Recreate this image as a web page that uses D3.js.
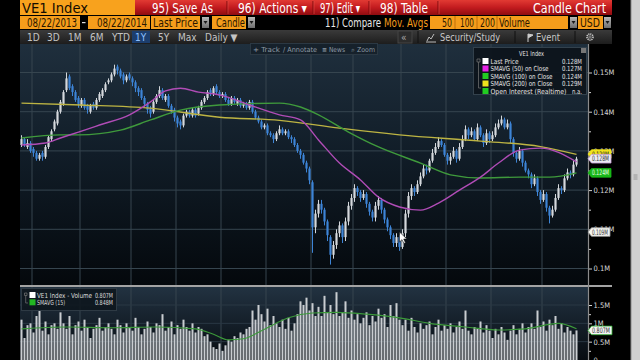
<!DOCTYPE html>
<html>
<head>
<meta charset="utf-8">
<script src="https://cdn.jsdelivr.net/npm/d3@7"></script>
<style>
html, body { margin: 0; padding: 0; background: #000; overflow: hidden; }
svg { display: block; font-family: "Liberation Sans Narrow", "DejaVu Sans Condensed", "Arial Narrow", sans-serif; }
</style>
</head>
<body>
<div id="container"></div>
<script>
// daily candles, prices in thousands (0.128M = 128)
let opens = [
  131.5,133,131,132,130.5,129.5,128,129.5,128.5,131,
  133,135.5,137,140,142,145.5,149,146.5,145,143.5,
  141.5,143,141.5,140,142,141,143,144,145.5,147.5,
  148,149.5,151.5,150.5,149.5,148,149.5,148.5,147.5,146,
  145.5,143.5,142,141,140,142.5,144,145.5,143,144,
  141.5,140.5,138.5,137.5,136.5,139,140,139,140.5,139.5,
  141,142.5,143.5,145.5,144.5,146.5,145,144,144.5,143,
  142,143.5,142,143,141.5,142,141,142.5,140,138.5,
  137.5,136,136.5,134.5,134,133,134.5,135.5,134.5,135,
  133.5,133,131.5,130,129,127,125.5,122,110.5,114,
  116.5,115,112,108,103.5,106,109,111,108,112,
  116,118,120.5,119.5,118,119,116.5,114.5,113,116,
  117.5,115,112.5,110.5,108.5,106.5,108,105.5,109,114,
  118.5,120.5,119.5,121.5,123.5,125.5,125,127.5,129.5,131,
  132.5,131.5,129,127.5,128.5,130,128,131,133,135.5,
  134,135,133,136,134,132,134.5,133,134,136,
  137,138,136,137,133,129.5,128,130,127,125,
  124,121.5,123,119.5,117.5,119,115.5,113.5,115,118,
  120.5,120,123,124.5,124,126.5
];
let highs = [
  134,133.5,133,132.5,131,130,129.5,130,131.5,134,
  135.5,138,140.5,143,145.5,150,149.5,147,145.5,144,
  143.5,143.5,142,142,142.5,143.5,145,146,147.5,148.5,
  150,152,152,151,150,149.5,150,149,148,146.5,
  146,144,142.5,141.5,143,144.5,146.5,146,144.5,144.5,
  142,141,139,138,139.5,140.5,140.5,141,141,141.5,
  143,144,145.5,146,146.5,147,145.5,145,145,143.5,
  144,144,143.5,143.5,142.5,142.5,143,143,140.5,139,
  138,137,137,135,134.5,135,136.5,136,135.5,135.5,
  134,133.5,132,130.5,129.5,127.5,126,122.5,115,117.5,
  117.5,115.5,112.5,108.5,107,110,112,111.5,113,117,
  119,121.5,121,120,120,119.5,117,115,117,118.5,
  118,115.5,113,111,109,109,108.5,110,115,119.5,
  121.5,121,122.5,124.5,126.5,126.5,128,130.5,132,133.5,
  133,132,129.5,129.5,131,130.5,132,134,136.5,136,
  136,135.5,137,136.5,134.5,135.5,135,135,137,138,
  139,138.5,138,137.5,133.5,130,131,130.5,127.5,125.5,
  124.5,124,123.5,120,120,119.5,116,116,119,121.5,
  121,124,125.5,125,127.5,128.5
];
let lows = [
  131,131,130.5,129.5,128.5,127.5,127.5,127.5,128,130.5,
  132.5,135,136.5,139.5,141.5,145,145.5,144,142.5,141,
  141,140.5,139.5,139.5,140.5,140.5,142.5,143.5,145,147,
  147.5,149,149.5,148.5,147,147.5,148,146.5,145,144,
  143,141,139.5,138.5,139.5,142,143.5,143,142.5,141,
  139.5,137.5,136,135.5,136,138.5,138.5,138.5,138.5,139,
  140.5,142,143,144,144,144.5,143.5,143.5,142.5,141.5,
  141.5,142,141.5,141,141,140.5,140.5,139.5,138,137,
  135.5,135.5,134,133.5,132,132.5,134,134,134,133,
  132,131,129.5,128,126.5,124.5,121.5,104,109,113,
  114,111,107,101,102.5,105,108,106.5,107,111,
  115,117,118.5,117,117.5,115.5,113.5,112,112,115,
  114,111.5,109.5,107.5,105.5,105.5,104.5,105,108,113,
  117.5,118.5,119,121,123,124,124.5,127,129,130.5,
  131,128.5,126.5,126.5,128,127,127.5,130.5,132.5,133,
  133.5,132.5,132.5,133.5,131,131.5,132,132.5,133.5,135.5,
  136.5,135.5,135.5,132,128.5,127,127.5,126,124.5,123,
  120.5,121,118.5,116.5,117,114.5,111.5,113,114.5,117.5,
  119,119.5,122.5,123,123.5,126
];
let closes = [
  133,131.5,132,130,129.5,128,129,128.5,131,133.5,
  135,137.5,140,142.5,145,148.5,146,145,143,142,
  143,141,140.5,141.5,141,143,144.5,145.5,147,148,
  149.5,151,150.5,149,148,149,148.5,147.5,146,145,
  143.5,142,140.5,139.5,142.5,144,145.5,143.5,144,141.5,
  140,138.5,137,136.5,139,140,139,140.5,139,141,
  142.5,143.5,145,144.5,146,145,144,144.5,143,142,
  143.5,142.5,143,141.5,142,141,142.5,140,138.5,137.5,
  136,136.5,134.5,134,133,134.5,135.5,134.5,135,133.5,
  133,131.5,130,129,127,125.5,122.5,110.5,114,116.5,
  115,112,108.5,103.5,106,109,111,108,112,116,
  118,120.5,119.5,118,119,116.5,114.5,113,116,117.5,
  115,112.5,110.5,108.5,106.5,108,105.5,109,114,118.5,
  120.5,119.5,121.5,123.5,125.5,125,127.5,129.5,131,132.5,
  131.5,129,127.5,128.5,130,128,131,133,135.5,134,
  135,133,136,134,132,134.5,133,134,136,137,
  138,136,137,133,129.5,128,130,127,125,124,
  121.5,123,119.5,117.5,119,115.5,113.5,115,118,120.5,
  120,123,124.5,124,126.5,128
];
// volume in millions
let volumes = [
  1.1,0.6,0.95,1.0,0.75,1.2,1.35,0.8,1.05,0.7,0.95,1.0,0.85,1.3,
  1.0,0.85,1.2,0.7,0.95,1.05,0.8,1.1,0.9,0.6,0.85,0.95,1.15,
  0.8,0.9,1.0,0.85,0.7,1.1,0.95,0.75,1.0,0.9,0.8,1.15,0.9,0.7,
  0.85,1.05,0.9,0.75,1.0,0.95,1.25,0.8,0.9,1.05,0.7,0.95,0.85,1.1,0.9,
  0.8,1.0,0.75,0.9,0.85,0.65,0.7,0.5,
  0.35,0.3,0.45,0.25,0.4,0.55,0.5,0.65,0.6,
  0.75,0.7,0.85,0.9,
  1.35,1.1,1.5,1.25,1.05,1.4,0.95,1.2,1.0,
  0.9,1.1,0.85,1.15,0.8,1.0,1.25,1.6,
  1.5,1.7,1.35,1.55,1.2,1.45,
  1.2,1.75,1.3,1.5,1.25,1.85,1.2,1.3,1.6,1.15,
  1.35,1.1,1.25,1.0,1.15,1.3,0.95,1.2,1.05,1.4,1.15,1.25,0.9,1.5,1.2,1.55,1.1,
  0.95,1.1,0.8,1.15,0.9,0.75,1.0,0.85,0.95,1.05,0.7,0.9,1.1,0.8,0.95,0.85,1.0,0.75,0.9,1.05,0.85,1.35,0.8,
  0.7,0.9,0.85,1.05,0.75,0.95,0.8,0.6,0.85,0.7,0.9,0.75,0.55,0.8,0.95,0.7,0.85,1.0,0.75,0.9,
  1.0,0.85,1.35,0.9,1.05,0.8,1.1,0.95,1.2,0.85,1.0,0.75,0.9,0.8,0.7,0.807
];
// moving averages: [bar index, value]
let sma50 = [[0,131.5],[8,132],[13,133.3],[19,134.8],[26,136.6],[36,139.2],[43,142.5],[48,145.3],[53,146],[59,145],[66,144.3],[76,141.7],[86,139.2],[93,137.9],[99,132.8],[106,126.9],[113,122.6],[119,118.2],[126,115.7],[133,114.9],[139,116.7],[146,120],[153,123.3],[159,126.9],[166,130.2],[173,130.7],[185,127.2]];
let sma100 = [[0,133.3],[13,134.1],[19,134.1],[33,135.3],[43,137.9],[53,140.4],[66,141.7],[86,142.2],[93,141.2],[99,139.2],[109,134.8],[119,131],[133,126.9],[143,123.9],[153,123.1],[166,123.3],[176,123.3],[185,124.4]];
let sma200 = [[0,142.2],[20,141.7],[43,140.9],[66,138.6],[86,137.8],[106,135.8],[126,134.1],[153,132.5],[173,131.1],[185,129.1]];
let volSma15 = [[0,0.85],[15,0.9],[30,0.88],[45,0.9],[58,0.85],[64,0.7],[69,0.55],[74,0.58],[80,0.8],[89,1.15],[97,1.28],[105,1.3],[115,1.25],[126,1.15],[136,1.0],[148,0.9],[159,0.82],[168,0.85],[179,1.0],[185,0.85]];

let monthStarts = [4, 20, 37, 52, 67, 82, 97, 111, 127, 142, 157, 174];
let priceTicks = [100, 110, 120, 130, 140, 150];
let priceMinor = [105, 115, 125, 135, 145];
let volTicks = [0, 0.5, 1, 1.5];
let volMinor = [0.25, 0.75, 1.25];

let legendNames = ["Last Price", "SMAVG (50) on Close", "SMAVG (100) on Close", "SMAVG (200) on Close", "Open Interest (Realtime)"];
let legendValues = ["0.128M", "0.127M", "0.124M", "0.129M", "n.a."];
let legendColors = ["#ffffff", "#e623e6", "#22cc22", "#eee21e", "#22cc22"];
let volLegendNames = ["VE1 Index - Volume", "SMAVG (15)"];
let volLegendValues = ["0.807M", "0.848M"];
let periodTabs = ["1D", "3D", "1M", "6M", "YTD", "1Y", "5Y", "Max", "Daily \u25BC"];
let tabX = [27, 47, 68, 90, 112, 135, 158, 178, 205];
let cursorPrice = 109.3;

let w = 640;
let h = 360;
let upColor = "#d4d8dc";
let downColor = "#3d84d6";

let svg = d3.select("#container").append("svg")
  .attr("width", w).attr("height", h);
let defs = svg.append("defs");

function vGrad(id, stops) {
  let g = defs.append("linearGradient").attr("id", id)
    .attr("x1", 0).attr("y1", 0).attr("x2", 0).attr("y2", 1);
  stops.forEach(function(s) { g.append("stop").attr("offset", s[0]).attr("stop-color", s[1]); });
}
vGrad("redG", [[0, "#e23a33"], [0.5, "#c21b1f"], [1, "#8f0c10"]]);
vGrad("priceBg", [[0, "#1f2f3d"], [0.45, "#111d28"], [1, "#04080c"]]);
vGrad("volBg", [[0, "#223241"], [1, "#070c11"]]);
vGrad("tabG", [[0, "#3a3a3a"], [1, "#1d1d1d"]]);
vGrad("ddG", [[0, "#b8b8b8"], [1, "#6e6e6e"]]);

svg.append("rect").attr("width", w).attr("height", h).attr("fill", "#000");

// ---------- header rows
svg.append("rect").attr("x", 20).attr("y", 0).attr("width", 115).attr("height", 15).attr("fill", "#f8a21d");
svg.append("text").attr("x", 22).attr("y", 12.5).attr("font-size", 14).attr("fill", "#140c00")
  .attr("textLength", 66).attr("lengthAdjust", "spacingAndGlyphs").text("VE1 Index");
svg.append("rect").attr("x", 135).attr("y", 0).attr("width", 477).attr("height", 15).attr("fill", "url(#redG)");

let menu = [
  {t: "95) Save As", x: 152, len: 61},
  {t: "96) Actions \u25BE", x: 238, len: 69},
  {t: "97) Edit \u25BE", x: 320, len: 40},
  {t: "98) Table", x: 380, len: 48}
];
svg.selectAll(".menu").data(menu).enter().append("text")
  .attr("class", "menu")
  .attr("x", function(d) { return d.x; }).attr("y", 12.5)
  .attr("font-size", 14).attr("fill", "#fff")
  .attr("textLength", function(d) { return d.len; }).attr("lengthAdjust", "spacingAndGlyphs")
  .text(function(d) { return d.t; });
svg.append("text").attr("x", 533).attr("y", 12.5).attr("font-size", 14).attr("fill", "#fff")
  .attr("textLength", 73).attr("lengthAdjust", "spacingAndGlyphs").text("Candle Chart");
[227, 313, 369, 438].forEach(function(sx) {
  svg.append("line").attr("x1", sx).attr("x2", sx).attr("y1", 1).attr("y2", 14).attr("stroke", "#7c0a0d").attr("stroke-width", 1);
  svg.append("line").attr("x1", sx + 1).attr("x2", sx + 1).attr("y1", 1).attr("y2", 14).attr("stroke", "#e2504a").attr("stroke-width", 0.6);
});

// row 2
function orangeBox(x0, wd, label, tx, tlen) {
  svg.append("rect").attr("x", x0).attr("y", 16).attr("width", wd).attr("height", 13).attr("fill", "#f59d1b");
  svg.append("text").attr("x", tx).attr("y", 27).attr("font-size", 11.5).attr("fill", "#2a1700")
    .attr("textLength", tlen).attr("lengthAdjust", "spacingAndGlyphs").text(label);
}
function dropDown(x0) {
  svg.append("rect").attr("x", x0).attr("y", 17).attr("width", 7).attr("height", 11).attr("fill", "url(#ddG)");
  svg.append("path").attr("d", "M" + (x0 + 1.5) + ",21 L" + (x0 + 5.5) + ",21 L" + (x0 + 3.5) + ",24 Z").attr("fill", "#1a1a1a");
}
orangeBox(20, 60, "08/22/2013", 27, 50);
svg.append("rect").attr("x", 82).attr("y", 22).attr("width", 3.5).attr("height", 1.2).attr("fill", "#ddd");
orangeBox(88, 62, "08/22/2014", 97, 50);
orangeBox(151, 49, "Last Price", 153, 45);
dropDown(202);
orangeBox(212, 34, "Candle", 216, 29);
dropDown(248);
svg.append("text").attr("x", 325).attr("y", 27).attr("font-size", 11.5).attr("fill", "#e8e8e8")
  .attr("textLength", 56).attr("lengthAdjust", "spacingAndGlyphs").text("11) Compare");
svg.append("text").attr("x", 384).attr("y", 27).attr("font-size", 11.5).attr("fill", "#f59d1b")
  .attr("textLength", 44).attr("lengthAdjust", "spacingAndGlyphs").text("Mov. Avgs");
svg.append("rect").attr("x", 430).attr("y", 16).attr("width", 138).attr("height", 13).attr("fill", "#f59d1b");
[["50", 442, 10], ["100", 460, 14], ["200", 480, 15], ["Volume", 499, 31]].forEach(function(d) {
  svg.append("text").attr("x", d[1]).attr("y", 27).attr("font-size", 11.5).attr("fill", "#2a1700")
    .attr("textLength", d[2]).attr("lengthAdjust", "spacingAndGlyphs").text(d[0]);
});
[455, 477, 497].forEach(function(sx) {
  svg.append("line").attr("x1", sx).attr("x2", sx).attr("y1", 16).attr("y2", 29).attr("stroke", "#c06f0a").attr("stroke-width", 1);
});
dropDown(570);
orangeBox(578, 25, "USD", 580, 20);
dropDown(604);

// row 3: period tabs
svg.append("rect").attr("x", 20).attr("y", 30).attr("width", 592).attr("height", 14).attr("fill", "url(#tabG)");
svg.append("rect").attr("x", 132).attr("y", 31).attr("width", 18).attr("height", 12).attr("fill", "#1c3e6e");
svg.selectAll(".tab").data(periodTabs).enter().append("text")
  .attr("class", "tab")
  .attr("x", function(d, i) { return tabX[i]; }).attr("y", 41)
  .attr("font-size", 10)
  .attr("fill", function(d) { return d === "1Y" ? "#8ec0ff" : "#c4c4c4"; })
  .text(function(d) { return d; });
svg.append("rect").attr("x", 398).attr("y", 31).attr("width", 14).attr("height", 12).attr("fill", "#2c2c2c").attr("stroke", "#444");
svg.append("text").attr("x", 401).attr("y", 41).attr("font-size", 10).attr("fill", "#aaa").text("\u00AB");
svg.append("path").attr("d", "M427,41 L429,37 L431,39 L434,34 M426,42 L436,42").attr("stroke", "#bbb").attr("fill", "none");
svg.append("text").attr("x", 440).attr("y", 41).attr("font-size", 10.5).attr("fill", "#c8c8c8")
  .attr("textLength", 60).attr("lengthAdjust", "spacingAndGlyphs").text("Security/Study");
svg.append("path").attr("d", "M528,34 L528,42 M528,34 L533,35 L528,38").attr("stroke", "#ccc").attr("fill", "#ccc");
svg.append("text").attr("x", 536).attr("y", 41).attr("font-size", 10.5).attr("fill", "#c8c8c8")
  .attr("textLength", 24).attr("lengthAdjust", "spacingAndGlyphs").text("Event");
svg.append("circle").attr("cx", 590).attr("cy", 37).attr("r", 3).attr("fill", "none").attr("stroke", "#ccc").attr("stroke-width", 1.6).attr("stroke-dasharray", "1.2,0.8");
svg.append("circle").attr("cx", 590).attr("cy", 37).attr("r", 1.2).attr("fill", "#2a2a2a").attr("stroke", "#ccc").attr("stroke-width", 0.6);
[418, 515, 575].forEach(function(sx) {
  svg.append("line").attr("x1", sx).attr("x2", sx).attr("y1", 31).attr("y2", 43).attr("stroke", "#111");
});

// ---------- scales
let N = closes.length;
let x = d3.scaleLinear().domain([0, N - 1]).range([21.5, 576.5]);
let y = d3.scaleLinear().domain([100, 150]).range([268.5, 72.5]);
let yv = d3.scaleLinear().domain([0, 1.5]).range([360, 305]);

// panels
svg.append("rect").attr("x", 20).attr("y", 44).attr("width", 568).attr("height", 242).attr("fill", "url(#priceBg)");
svg.append("rect").attr("x", 20).attr("y", 287).attr("width", 568).attr("height", 73).attr("fill", "url(#volBg)");

let grid = svg.append("g").attr("class", "grid");
grid.selectAll(".vg").data(monthStarts).enter().append("line")
  .attr("x1", function(d) { return x(d) - 1.5; }).attr("x2", function(d) { return x(d) - 1.5; })
  .attr("y1", 44).attr("y2", 360)
  .attr("stroke", "#36454f").attr("stroke-width", 1);
grid.selectAll(".hg").data(priceTicks).enter().append("line")
  .attr("x1", 20).attr("x2", 588)
  .attr("y1", function(d) { return y(d); }).attr("y2", function(d) { return y(d); })
  .attr("stroke", "#36454f").attr("stroke-width", 1);
grid.selectAll(".hv").data([0.5, 1, 1.5]).enter().append("line")
  .attr("x1", 20).attr("x2", 588)
  .attr("y1", function(d) { return yv(d); }).attr("y2", function(d) { return yv(d); })
  .attr("stroke", "#2a3844").attr("stroke-width", 1);

// ---------- candles
let idx = d3.range(N);
let candleG = svg.append("g").attr("class", "candles");
function candleColor(i) { return closes[i] >= opens[i] ? upColor : downColor; }
candleG.selectAll(".wick").data(idx).enter().append("line")
  .attr("class", "wick")
  .attr("x1", function(i) { return x(i); }).attr("x2", function(i) { return x(i); })
  .attr("y1", function(i) { return y(highs[i]); }).attr("y2", function(i) { return y(lows[i]); })
  .attr("stroke", candleColor).attr("stroke-width", 1);
candleG.selectAll(".body").data(idx).enter().append("rect")
  .attr("class", "body")
  .attr("x", function(i) { return x(i) - 1.1; }).attr("width", 2.2)
  .attr("y", function(i) { return y(Math.max(opens[i], closes[i])); })
  .attr("height", function(i) { return Math.max(1, Math.abs(y(opens[i]) - y(closes[i]))); })
  .attr("fill", candleColor);

// moving average lines
let maLine = d3.line()
  .x(function(d) { return x(d[0]); })
  .y(function(d) { return y(d[1]); })
  .curve(d3.curveMonotoneX);
let maG = svg.append("g").attr("class", "ma");
[[sma200, "#bdb443"], [sma100, "#3f9a3c"], [sma50, "#b04cb6"]].forEach(function(s) {
  maG.append("path").attr("d", maLine(s[0])).attr("fill", "none")
    .attr("stroke", s[1]).attr("stroke-width", 1.4);
});

// ---------- volume bars
let volG = svg.append("g").attr("class", "volume");
volG.selectAll("rect").data(volumes).enter().append("rect")
  .attr("x", function(d, i) { return x(i) - 1; }).attr("width", 2)
  .attr("y", function(d) { return yv(d); })
  .attr("height", function(d) { return yv(0) - yv(d); })
  .attr("fill", "#c9cdd1");
let volLine = d3.line()
  .x(function(d) { return x(d[0]); })
  .y(function(d) { return yv(d[1]); })
  .curve(d3.curveMonotoneX);
volG.append("path").attr("d", volLine(volSma15)).attr("fill", "none")
  .attr("stroke", "#3c9a3a").attr("stroke-width", 1.1);

// ---------- panel separator and axes
svg.append("line").attr("x1", 20).attr("x2", 612).attr("y1", 286).attr("y2", 286)
  .attr("stroke", "#a3a3a3").attr("stroke-width", 2);
svg.append("line").attr("x1", 588.5).attr("x2", 588.5).attr("y1", 44).attr("y2", 360)
  .attr("stroke", "#8c8c8c").attr("stroke-width", 1.2);

function styleAxis(g) {
  g.select(".domain").remove();
  g.selectAll("line").attr("stroke", "#d0d0d0");
  g.selectAll("text").attr("fill", "#d8d8d8").attr("font-size", 7.5)
    .attr("font-family", "\"Liberation Sans Narrow\", \"DejaVu Sans Condensed\", sans-serif");
}
let yAxis = d3.axisRight(y).tickValues(priceTicks).tickSize(3).tickPadding(1.5)
  .tickFormat(function(d) { return (d / 1000) + "M"; });
svg.append("g").attr("transform", "translate(589,0)").call(yAxis).call(styleAxis);
svg.append("g").attr("transform", "translate(589,0)")
  .call(d3.axisRight(y).tickValues(priceMinor).tickSize(2).tickFormat(""))
  .call(styleAxis);
let vAxis = d3.axisRight(yv).tickValues(volTicks).tickSize(3).tickPadding(1.5)
  .tickFormat(function(d) { return d === 0 ? "0" : d + "M"; });
svg.append("g").attr("transform", "translate(589,0)").call(vAxis).call(styleAxis);
svg.append("g").attr("transform", "translate(589,0)")
  .call(d3.axisRight(yv).tickValues(volMinor).tickSize(2).tickFormat(""))
  .call(styleAxis);

// value tags on the axis
function tag(yy, label, fill, color, stroke, wd) {
  let x0 = 588;
  let g = svg.append("g");
  g.append("path")
    .attr("d", "M" + x0 + "," + yy + " L" + (x0 + 3.5) + "," + (yy - 4.3) + " L" + (x0 + wd) + "," + (yy - 4.3) +
      " L" + (x0 + wd) + "," + (yy + 4.3) + " L" + (x0 + 3.5) + "," + (yy + 4.3) + " Z")
    .attr("fill", fill).attr("stroke", stroke).attr("stroke-width", 0.8);
  g.append("text").attr("x", x0 + 4).attr("y", yy + 2.6).attr("font-size", 7.5).attr("fill", color)
    .attr("textLength", wd - 6).attr("lengthAdjust", "spacingAndGlyphs").text(label);
}
tag(y(129.2), "0.129M", "#f0e41c", "#222", "#f0e41c", 23);
tag(y(128), "0.128M", "#ececf4", "#333", "#c9a0d8", 23);
tag(y(124.4), "0.124M", "#18b818", "#e8ffe8", "#18b818", 23);
tag(y(cursorPrice), "0." + Math.round(cursorPrice) + "M", "#f4f4f0", "#333", "#999", 22);
tag(yv(0.807), "0.807M", "#f4f4f4", "#333", "#30b030", 24);

// ---------- price legend
let legNameLen = [28, 58, 62, 62, 76];
let legValLen = [20, 20, 20, 20, 10];
let leg = svg.append("g").attr("class", "legend");
leg.append("rect").attr("x", 473.5).attr("y", 47.5).attr("width", 113).attr("height", 47)
  .attr("fill", "#0c141b").attr("fill-opacity", 0.92).attr("stroke", "#33414c");
leg.append("rect").attr("x", 581).attr("y", 48).attr("width", 5).attr("height", 5).attr("fill", "#777");
leg.append("text").attr("x", 519).attr("y", 56).attr("font-size", 7)
  .attr("textLength", 25).attr("lengthAdjust", "spacingAndGlyphs")
  .attr("fill", "#e4e4e4").text("VE1 Index");
leg.append("path").attr("d", "M477,59 h3 v3 h-3 Z M478.5,62 V88 M478.5,88 H481").attr("stroke", "#777").attr("fill", "none").attr("stroke-width", 0.7);
leg.selectAll(".sw").data(legendNames).enter().append("rect")
  .attr("x", 482.5).attr("y", function(d, i) { return 58 + i * 7.5; })
  .attr("width", 6).attr("height", 6)
  .attr("fill", function(d, i) { return legendColors[i]; });
leg.selectAll(".ln").data(legendNames).enter().append("text")
  .attr("x", 490.5).attr("y", function(d, i) { return 63.5 + i * 7.5; })
  .attr("font-size", 7).attr("fill", "#e4e4e4")
  .attr("textLength", function(d, i) { return legNameLen[i]; }).attr("lengthAdjust", "spacingAndGlyphs")
  .text(function(d) { return d; });
leg.selectAll(".lv").data(legendValues).enter().append("text")
  .attr("x", function(d, i) { return 582 - legValLen[i]; }).attr("y", function(d, i) { return 63.5 + i * 7.5; })
  .attr("font-size", 7).attr("fill", "#e4e4e4")
  .attr("textLength", function(d, i) { return legValLen[i]; }).attr("lengthAdjust", "spacingAndGlyphs")
  .text(function(d) { return d; });

// volume legend
let vleg = svg.append("g").attr("class", "vlegend");
vleg.append("rect").attr("x", 21.5).attr("y", 288.5).attr("width", 95).attr("height", 22)
  .attr("fill", "#0d151c").attr("fill-opacity", 0.85).attr("stroke", "#2e3a44");
vleg.append("path").attr("d", "M24.5,293 h2.5 v2.5 h-2.5 Z M25.7,295.5 V303 H28").attr("stroke", "#777").attr("fill", "none").attr("stroke-width", 0.7);
vleg.selectAll(".sw").data(volLegendNames).enter().append("rect")
  .attr("x", 29.5).attr("y", function(d, i) { return 292 + i * 7.3; })
  .attr("width", 6).attr("height", 6)
  .attr("fill", function(d, i) { return i === 0 ? "#ffffff" : "#22b622"; });
vleg.selectAll(".ln").data(volLegendNames).enter().append("text")
  .attr("x", 37).attr("y", function(d, i) { return 297.5 + i * 7.3; })
  .attr("font-size", 7).attr("fill", "#dcdcdc")
  .attr("textLength", function(d, i) { return i === 0 ? 55 : 28; }).attr("lengthAdjust", "spacingAndGlyphs")
  .text(function(d) { return d; });
vleg.selectAll(".lv").data(volLegendValues).enter().append("text")
  .attr("x", 95).attr("y", function(d, i) { return 297.5 + i * 7.3; })
  .attr("font-size", 7).attr("fill", "#dcdcdc")
  .attr("textLength", 18).attr("lengthAdjust", "spacingAndGlyphs")
  .text(function(d) { return d; });

// chart toolbar (Track / Annotate / News / Zoom)
let tb = svg.append("g");
tb.append("rect").attr("x", 250.5).attr("y", 43.5).attr("width", 127).attr("height", 11)
  .attr("fill", "#16212b").attr("stroke", "#2b3843");
[["+ Track", 253, 27], ["\u2215 Annotate", 283, 34], ["\u2261 News", 322, 23], ["\u2315 Zoom", 351, 24]].forEach(function(d) {
  tb.append("text").attr("x", d[1]).attr("y", 51.5).attr("font-size", 6.8).attr("fill", "#8d9aa5")
    .attr("textLength", d[2]).attr("lengthAdjust", "spacingAndGlyphs").text(d[0]);
});

// mouse pointer
svg.append("path")
  .attr("transform", "translate(" + x(126) + "," + y(cursorPrice) + ")")
  .attr("d", "M0,0 L0,10 L2.5,7.6 L4.4,11.4 L6,10.6 L4.2,7 L7.4,7 Z")
  .attr("fill", "#fff").attr("stroke", "#111").attr("stroke-width", 0.6);

// right scrollbar strip
svg.append("rect").attr("x", 631).attr("y", 0).attr("width", 9).attr("height", h).attr("fill", "#cfcfcf");
svg.append("line").attr("x1", 631).attr("x2", 631).attr("y1", 0).attr("y2", h).attr("stroke", "#8a8a8a");
svg.append("path").attr("d", "M633.5,175 h4 M633.5,177 h4 M633.5,179 h4").attr("stroke", "#888").attr("stroke-width", 0.8);
</script>
</body>
</html>
